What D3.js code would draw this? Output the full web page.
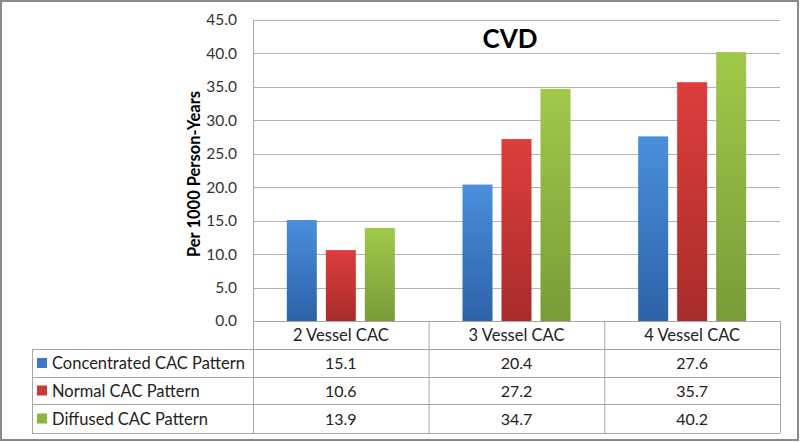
<!DOCTYPE html>
<html><head><meta charset="utf-8">
<script src="https://cdn.jsdelivr.net/npm/d3@7"></script>
<style>body{margin:0;background:#fff}svg{display:block}</style>
</head><body>
<svg id="c" width="800" height="442"></svg>
<script>
const categories = ["2 Vessel CAC", "3 Vessel CAC", "4 Vessel CAC"];
const seriesNames = ["Concentrated CAC Pattern", "Normal CAC Pattern", "Diffused CAC Pattern"];
const concentrated = [15.1, 20.4, 27.6];
const normal = [10.6, 27.2, 35.7];
const diffused = [13.9, 34.7, 40.2];
const yTicks = [0, 5, 10, 15, 20, 25, 30, 35, 40, 45];
const title = "CVD";
const yTitle = "Per 1000 Person-Years";

const seriesValues = [concentrated, normal, diffused];
const colors = [
  {top:"#4a8fdb", bot:"#2d62a8", sw:"#3a78c8"},
  {top:"#dc3e3c", bot:"#a82c2b", sw:"#c63a38"},
  {top:"#a0c94a", bot:"#789c38", sw:"#8db640"}
];
const font = "Lato, 'Open Sans', sans-serif";

const svg = d3.select("#c");
const L = 253, R = 780, T = 20, B = 321;
const tableLeft = 32;
const rowEdges = [321, 349, 377, 404, 433];

const defs = svg.append("defs");
colors.forEach((c,i)=>{
  const g = defs.append("linearGradient").attr("id","g"+i).attr("x1",0).attr("y1",0).attr("x2",0).attr("y2",1);
  g.append("stop").attr("offset","0%").attr("stop-color",c.top);
  g.append("stop").attr("offset","100%").attr("stop-color",c.bot);
});

// outer border
svg.append("rect").attr("x",1).attr("y",1).attr("width",797).attr("height",439)
  .attr("fill","none").attr("stroke","#8a8a8a").attr("stroke-width",2);

const x = d3.scaleBand().domain(categories).range([L, R]).padding(0);
const bw = x.bandwidth();
const groupW = 108;
const xs = d3.scaleBand().domain(d3.range(3)).range([(bw-groupW)/2, (bw+groupW)/2]).paddingInner(9/39).paddingOuter(0);
const y = d3.scaleLinear().domain([0,45]).range([B, T]);

// gridlines
svg.append("g").selectAll("line").data(yTicks).join("line")
  .attr("x1",L).attr("x2",R).attr("y1",d=>Math.round(y(d))+0.5).attr("y2",d=>Math.round(y(d))+0.5)
  .attr("stroke","#b3b3b3").attr("stroke-width",1);

// y axis
const yAxis = d3.axisLeft(y).tickValues(yTicks).tickFormat(d3.format(".1f")).tickSize(0).tickPadding(16);
const ya = svg.append("g").attr("transform",`translate(${L},0)`).call(yAxis);
ya.select(".domain").remove();
ya.selectAll("text").attr("font-family",font).attr("font-size",15.5).attr("fill","#333");

// y axis line
svg.append("line").attr("x1",L+0.5).attr("x2",L+0.5).attr("y1",T).attr("y2",rowEdges[4])
  .attr("stroke","#a6a6a6");

// bars
seriesValues.forEach((vals,si)=>{
  svg.append("g").selectAll("rect").data(vals).join("rect")
    .attr("x",(d,i)=>x(categories[i])+xs(si))
    .attr("width",xs.bandwidth())
    .attr("y",d=>y(d))
    .attr("height",d=>B-y(d))
    .attr("fill",`url(#g${si})`);
});

// title
svg.append("text").attr("x",510).attr("y",48).attr("text-anchor","middle")
  .attr("font-family",font).attr("font-weight","bold").attr("font-size",26).attr("fill","#000").text(title);

// y title
svg.append("text").attr("transform","translate(200,174) rotate(-90)").attr("text-anchor","middle")
  .attr("font-family",font).attr("font-weight","bold").attr("font-size",16.5).attr("fill","#000").text(yTitle);

// table
const tb = svg.append("g").attr("stroke","#a6a6a6").attr("fill","none");
rowEdges.forEach((ry,i)=>{
  tb.append("line").attr("x1", i===0 ? L : tableLeft).attr("x2",R).attr("y1",ry+0.5).attr("y2",ry+0.5);
});
tb.append("line").attr("x1",tableLeft+0.5).attr("x2",tableLeft+0.5).attr("y1",rowEdges[1]).attr("y2",rowEdges[4]);
categories.forEach(c=>{
  tb.append("line").attr("x1",x(c)+bw+0.5).attr("x2",x(c)+bw+0.5).attr("y1",rowEdges[0]).attr("y2",rowEdges[4]);
});

// category labels
svg.append("g").selectAll("text").data(categories).join("text")
  .attr("x",d=>x(d)+bw/2).attr("y",(rowEdges[0]+rowEdges[1])/2+6).attr("text-anchor","middle")
  .attr("font-family",font).attr("font-size",16.5).attr("fill","#222").text(d=>d);

// rows
seriesNames.forEach((name,si)=>{
  const cy = (rowEdges[si+1]+rowEdges[si+2])/2;
  svg.append("rect").attr("x",37).attr("y",cy-5).attr("width",10).attr("height",10).attr("fill",colors[si].sw);
  svg.append("text").attr("x",52).attr("y",cy+6).attr("font-family",font).attr("font-size",16.5)
    .attr("fill","#222").text(name);
  svg.append("g").selectAll("text").data(seriesValues[si]).join("text")
    .attr("x",(d,i)=>x(categories[i])+bw/2).attr("y",cy+6).attr("text-anchor","middle")
    .attr("font-family",font).attr("font-size",16).attr("fill","#222").text(d=>d.toFixed(1));
});
</script>
</body></html>
